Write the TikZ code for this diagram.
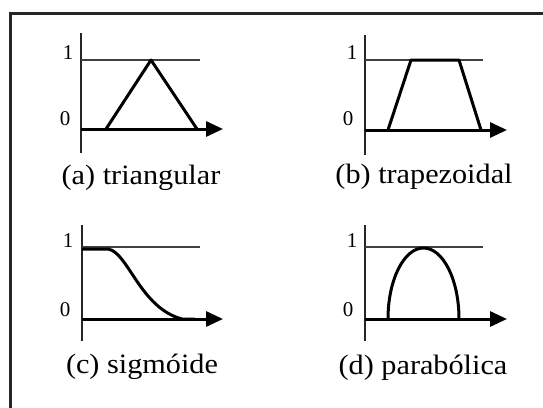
\documentclass[tikz,border=0pt]{standalone}
\usepackage{fontspec}
\setmainfont{Liberation Serif}
\usetikzlibrary{arrows.meta}
\begin{document}
\begin{tikzpicture}[x=1pt,y=-1pt,
  frameline/.style={line width=3pt,draw=black!85},
  yaxis/.style={line width=2pt,draw=black!85},
  xaxis/.style={line width=3pt,draw=black,-{Triangle[length=17pt,width=15pt]}},
  oneline/.style={line width=1.8pt,draw=black!75},
  curve/.style={line width=3pt,draw=black,line join=round},
  tick/.style={inner sep=0pt,font=\fontsize{21}{21}\selectfont},
  caption/.style={inner sep=0pt,font=\fontsize{28}{28}\selectfont}]
\useasboundingbox (0,0) rectangle (543,407);
\fill[white] (0,0) rectangle (543,407);
% frame
\draw[frameline] (10.5,410) -- (10.5,13.5) -- (546,13.5);

% ---------- (a) triangular
\coordinate (aYt) at (81,33);
\coordinate (aYb) at (81,153);
\coordinate (aO) at (81,129);
\coordinate (aX) at (223,129);
\coordinate (a1s) at (81,60);
\coordinate (a1e) at (200,60);
\coordinate (aL) at (106,129);
\coordinate (aP) at (151,60);
\coordinate (aR) at (197,129);
\draw[yaxis] (aYt) -- (aYb);
\draw[oneline] (a1s) -- (a1e);
\draw[xaxis] (aO) -- (aX);
\draw[curve] (aL) -- (aP) -- (aR);
\node[tick] (a1) at (68,53) {1};
\node[tick] (a0) at (65,119) {0};
\node[caption] (acap) at (141,178) {\scalebox{1.08}[1]{(a) triangular}};

% ---------- (b) trapezoidal
\coordinate (bYt) at (365,35);
\coordinate (bYb) at (365,155);
\coordinate (bO) at (365,130);
\coordinate (bX) at (507,130);
\coordinate (b1s) at (365,60);
\coordinate (b1e) at (483,60);
\coordinate (bL) at (388,130);
\coordinate (bTL) at (411,60);
\coordinate (bTR) at (459,60);
\coordinate (bR) at (481,130);
\draw[yaxis] (bYt) -- (bYb);
\draw[oneline] (b1s) -- (b1e);
\draw[xaxis] (bO) -- (bX);
\draw[curve] (bL) -- (bTL) -- (bTR) -- (bR);
\node[tick] (b1) at (352,53) {1};
\node[tick] (b0) at (348,119) {0};
\node[caption] (bcap) at (424,177) {\scalebox{1.08}[1]{(b) trapezoidal}};

% ---------- (c) sigmoide
\coordinate (cYt) at (82,225);
\coordinate (cYb) at (82,341);
\coordinate (cO) at (82,319);
\coordinate (cX) at (223,319);
\coordinate (c1s) at (82,247);
\coordinate (c1e) at (200,247);
\coordinate (cS) at (82,249);
\coordinate (cA) at (108,249);
\coordinate (cB) at (182,319);
\draw[yaxis] (cYt) -- (cYb);
\draw[oneline] (c1s) -- (c1e);
\draw[xaxis] (cO) -- (cX);
\draw[curve] (cS) -- (cA) .. controls (128,252) and (140,308) .. (cB) -- (195,319);
\node[tick] (c1) at (68,241) {1};
\node[tick] (c0) at (65,310) {0};
\node[caption] (ccap) at (142,367) {\scalebox{1.08}[1]{(c) sigm\'oide}};

% ---------- (d) parabolica
\coordinate (dYt) at (365,225);
\coordinate (dYb) at (365,341);
\coordinate (dO) at (365,319);
\coordinate (dX) at (507,319);
\coordinate (d1s) at (365,247);
\coordinate (d1e) at (483,247);
\coordinate (dL) at (388,319);
\draw[yaxis] (dYt) -- (dYb);
\draw[oneline] (d1s) -- (d1e);
\draw[xaxis] (dO) -- (dX);
\draw[curve] (dL) arc[start angle=180,end angle=360,x radius=35.5,y radius=71];
\node[tick] (d1) at (352,241) {1};
\node[tick] (d0) at (348,310) {0};
\node[caption] (dcap) at (423,368) {\scalebox{1.08}[1]{(d) parab\'olica}};
\end{tikzpicture}
\end{document}
